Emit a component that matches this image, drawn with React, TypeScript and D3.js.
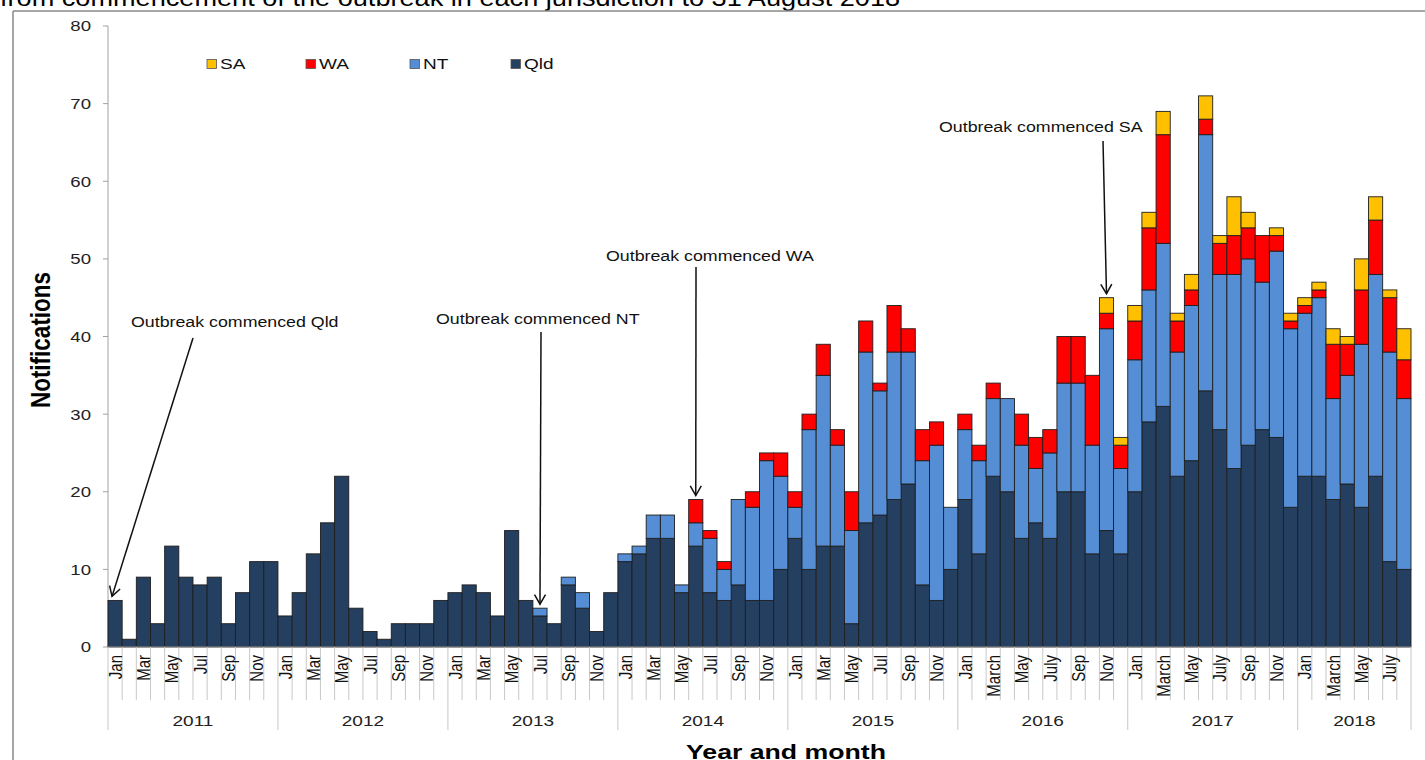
import React from "react";
import * as d3 from "d3";

const years = ["2011", "2012", "2013", "2014", "2015", "2016", "2017", "2018"];
const monthLabels2011to2015 = ["Jan", "", "Mar", "", "May", "", "Jul", "", "Sep", "", "Nov", ""];
const monthLabels2016on = ["Jan", "", "March", "", "May", "", "July", "", "Sep", "", "Nov", ""];

const qld = [
  6, 1, 9, 3, 13, 9, 8, 9, 3, 7, 11, 11,
  4, 7, 12, 16, 22, 5, 2, 1, 3, 3, 3, 6,
  7, 8, 7, 4, 15, 6, 4, 3, 8, 5, 2, 7,
  11, 12, 14, 14, 7, 13, 7, 6, 8, 6, 6, 10,
  14, 10, 13, 13, 3, 16, 17, 19, 21, 8, 6, 10,
  19, 12, 22, 20, 14, 16, 14, 20, 20, 12, 15, 12,
  20, 29, 31, 22, 24, 33, 28, 23, 26, 28, 27, 18,
  22, 22, 19, 21, 18, 22, 11, 10,
];
const nt = [
  0, 0, 0, 0, 0, 0, 0, 0, 0, 0, 0, 0,
  0, 0, 0, 0, 0, 0, 0, 0, 0, 0, 0, 0,
  0, 0, 0, 0, 0, 0, 1, 0, 1, 2, 0, 0,
  1, 1, 3, 3, 1, 3, 7, 4, 11, 12, 18, 12,
  4, 18, 22, 13, 12, 22, 16, 19, 17, 16, 20, 8,
  9, 12, 10, 12, 12, 7, 11, 14, 14, 14, 26, 11,
  17, 17, 21, 16, 20, 33, 20, 25, 24, 19, 24, 23,
  21, 23, 13, 14, 21, 26, 27, 22,
];
const wa = [
  0, 0, 0, 0, 0, 0, 0, 0, 0, 0, 0, 0,
  0, 0, 0, 0, 0, 0, 0, 0, 0, 0, 0, 0,
  0, 0, 0, 0, 0, 0, 0, 0, 0, 0, 0, 0,
  0, 0, 0, 0, 0, 3, 1, 1, 0, 2, 1, 3,
  2, 2, 4, 2, 5, 4, 1, 6, 3, 4, 3, 0,
  2, 2, 2, 0, 4, 4, 3, 6, 6, 9, 2, 3,
  5, 8, 14, 4, 2, 2, 4, 5, 4, 6, 2, 1,
  1, 1, 7, 4, 7, 7, 7, 5,
];
const sa = [
  0, 0, 0, 0, 0, 0, 0, 0, 0, 0, 0, 0,
  0, 0, 0, 0, 0, 0, 0, 0, 0, 0, 0, 0,
  0, 0, 0, 0, 0, 0, 0, 0, 0, 0, 0, 0,
  0, 0, 0, 0, 0, 0, 0, 0, 0, 0, 0, 0,
  0, 0, 0, 0, 0, 0, 0, 0, 0, 0, 0, 0,
  0, 0, 0, 0, 0, 0, 0, 0, 0, 0, 2, 1,
  2, 2, 3, 1, 2, 3, 1, 5, 2, 0, 1, 1,
  1, 1, 2, 1, 4, 3, 1, 4,
];
const seriesKeys = ["Qld", "NT", "WA", "SA"];
const seriesColors = ["#243f60", "#558ed5", "#ff0000", "#ffc000"];
const legendOrder = ["SA", "WA", "NT", "Qld"];
const yTicks = [0, 10, 20, 30, 40, 50, 60, 70, 80];

const annotations = [
  { text: "Outbreak commenced Qld", month: 0, tx: 131, ty: 322, sx: 193, sy: 338, side: "left" },
  { text: "Outbreak commenced NT", month: 30, tx: 436, ty: 319, sx: 541, sy: 332, side: "center" },
  { text: "Outbreak commenced WA", month: 41, tx: 606, ty: 256, sx: 696, sy: 267, side: "center" },
  { text: "Outbreak commenced SA", month: 70, tx: 939, ty: 127, sx: 1103, sy: 141, side: "center" },
];

const FONT = "Liberation Sans, Arial, sans-serif";
const STRETCH = 1.27;

function SText(props: any) {
  const { x, y, sx = STRETCH, children, ...rest } = props;
  return (
    <text transform={`translate(${x},${y}) scale(${sx},1)`} {...rest}>
      {children}
    </text>
  );
}

export default function App() {
  const W = 1425, H = 760;
  const left = 108, right = 1411, top = 26, bottom = 647;
  const n = qld.length;
  const idx = d3.range(n);
  const x = d3.scaleBand<number>().domain(idx).range([left, right]).padding(0);
  const y = d3.scaleLinear().domain([0, 80]).range([bottom, top]);
  const bw = x.bandwidth();

  const rows = idx.map((i) => ({ Qld: qld[i], NT: nt[i], WA: wa[i], SA: sa[i] }));
  const stacked = d3.stack<any>().keys(seriesKeys)(rows);
  const totals = idx.map((i) => qld[i] + nt[i] + wa[i] + sa[i]);

  const monthLabel = (i: number) => {
    const yr = Math.floor(i / 12);
    const m = i % 12;
    return yr >= 5 ? monthLabels2016on[m] : monthLabels2011to2015[m];
  };

  const arrowHead = (tx: number, ty: number, sx: number, sy: number) => {
    const ang = Math.atan2(ty - sy, tx - sx);
    const len = 11, spread = Math.PI / 6;
    const a1 = ang + Math.PI - spread, a2 = ang + Math.PI + spread;
    return `M${tx + len * Math.cos(a1)},${ty + len * Math.sin(a1)}L${tx},${ty}L${tx + len * Math.cos(a2)},${ty + len * Math.sin(a2)}`;
  };

  return (
    <svg width={W} height={H} style={{ position: "absolute", left: 0, top: 0, background: "#fff" }} fontFamily={FONT}>
      <SText x={0} y={6} sx={1.18} fontSize={23} fill="#000">from commencement of the outbreak in each jurisdiction to 31 August 2018</SText>
      <line x1={13} y1={11} x2={W} y2={11} stroke="#888" strokeWidth={1.5} />
      <line x1={13} y1={11} x2={13} y2={H} stroke="#888" strokeWidth={1.5} />

      {/* y axis */}
      <line x1={left} y1={top} x2={left} y2={bottom} stroke="#a0a0a0" strokeWidth={1} />
      {yTicks.map((t) => (
        <g key={t}>
          <line x1={left - 5} x2={left} y1={y(t)} y2={y(t)} stroke="#a0a0a0" />
          <SText x={91} y={y(t)} sx={1.2} dy="0.35em" textAnchor="end" fontSize={15.5} fill="#222">{t}</SText>
        </g>
      ))}

      {/* bars */}
      {stacked.map((s, si) => (
        <g key={s.key} fill={seriesColors[si]}>
          {s.map((d, i) =>
            d[1] - d[0] > 0 ? (
              <rect key={i} x={x(i)} y={y(d[1])} width={bw} height={y(d[0]) - y(d[1])} stroke="#1e1e1e" strokeWidth={0.9} />
            ) : null
          )}
        </g>
      ))}

      {/* x axis */}
      <line x1={left} x2={right} y1={bottom} y2={bottom} stroke="#a0a0a0" />
      {d3.range(n + 1).map((i) => {
        const xx = i < n ? (x(i) as number) : right;
        const isYear = i % 12 === 0 || i === n;
        return <line key={i} x1={xx} x2={xx} y1={bottom} y2={isYear ? 730 : 700} stroke="#c8c8c8" strokeWidth={1} />;
      })}
      {idx.map((i) => {
        const lab = monthLabel(i);
        if (!lab) return null;
        const cx = (x(i) as number) + bw / 2;
        return (
          <text key={i} transform={`translate(${cx},${bottom + 8}) rotate(-90) scale(1,${STRETCH})`} textAnchor="end" dy="0.35em" fontSize={15} fill="#111">
            {lab}
          </text>
        );
      })}
      {years.map((yr, k) => {
        const start = k * 12;
        const end = Math.min(n, start + 12);
        const cx = ((x(start) as number) + (end < n ? (x(end) as number) : right)) / 2;
        return (
          <SText key={yr} x={cx} y={726} textAnchor="middle" fontSize={15} fill="#222">{yr}</SText>
        );
      })}

      <SText x={786} y={759} textAnchor="middle" fontSize={21} fontWeight="bold" fill="#000">Year and month</SText>
      <text transform="translate(50,340) rotate(-90) scale(1,1.2)" textAnchor="middle" fontSize={22.5} fontWeight="bold" fill="#000">Notifications</text>

      {/* legend */}
      {legendOrder.map((k, j) => {
        const lx = [207, 306, 410, 511][j];
        const ci = seriesKeys.indexOf(k);
        return (
          <g key={k}>
            <rect x={lx} y={59.5} width={9.5} height={9} fill={seriesColors[ci]} stroke="#555" strokeWidth={0.8} />
            <SText x={lx + 13} y={64} dy="0.35em" fontSize={15} fill="#111">{k}</SText>
          </g>
        );
      })}

      {/* annotations */}
      {annotations.map((a) => {
        const cx = (x(a.month) as number) + (a.side === "left" ? 4 : bw / 2);
        const tyTip = y(totals[a.month]) - 4;
        return (
          <g key={a.text}>
            <SText x={a.tx} y={a.ty} dy="0.35em" fontSize={14} fill="#111">{a.text}</SText>
            <line x1={a.sx} y1={a.sy} x2={cx} y2={tyTip} stroke="#111" strokeWidth={1.5} />
            <path d={arrowHead(cx, tyTip, a.sx, a.sy)} fill="none" stroke="#111" strokeWidth={1.5} />
          </g>
        );
      })}
    </svg>
  );
}
